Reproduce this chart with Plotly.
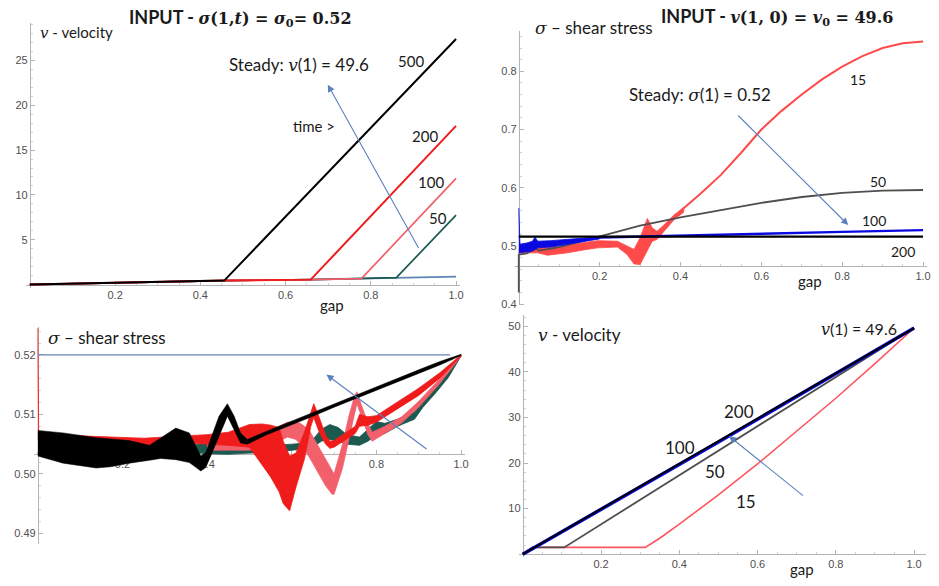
import plotly.graph_objects as go

W, H = 939, 586

# ---------------- data ----------------
SIGMA0 = 0.52
V0 = 49.6

# Panel A: velocity v(gap) for imposed stress, times 50/100/200/500
A_GAP_BASE = [0.0, 0.456, 0.659, 0.778, 0.86, 1.0]
A_V_BASE = [0.0, 0.44, 0.55, 0.66, 0.77, 0.88]
A_GAP_50 = [0.0, 0.456, 0.659, 0.778, 0.86, 1.0]
A_V_50 = [0.0, 0.44, 0.55, 0.66, 0.77, 7.75]
A_GAP_100 = [0.0, 0.456, 0.659, 0.778, 1.0]
A_V_100 = [0.0, 0.44, 0.55, 0.66, 11.85]
A_GAP_200 = [0.0, 0.456, 0.659, 1.0]
A_V_200 = [0.0, 0.44, 0.55, 17.7]
A_GAP_500 = [0.0, 0.2, 0.456, 1.0]
A_V_500 = [0.0, 0.2, 0.44, 27.4]

# Panel B: shear stress for imposed velocity, times 15/50/100/200
B_GAP_15_NOISY = [0.0, 0.02, 0.047, 0.071, 0.12, 0.16, 0.195, 0.244, 0.268, 0.285,
                  0.30, 0.318, 0.33, 0.342, 0.359, 0.384, 0.408]
B_S_15_UP = [0.495, 0.498, 0.502, 0.497, 0.502, 0.505, 0.509, 0.508, 0.4995, 0.494,
             0.514, 0.547, 0.531, 0.525, 0.536, 0.553, 0.566]
B_S_15_LO = [0.488, 0.488, 0.488, 0.484, 0.488, 0.493, 0.4966, 0.498, 0.485, 0.469,
             0.468, 0.491, 0.508, 0.511, 0.525, 0.545, 0.558]
B_GAP_15 = [0.40, 0.45, 0.5, 0.55, 0.6, 0.65, 0.7, 0.75, 0.8, 0.85, 0.9, 0.95, 1.0]
B_S_15 = [0.560, 0.590, 0.622, 0.660, 0.700, 0.732, 0.760, 0.786, 0.808, 0.826,
          0.840, 0.848, 0.851]
B_GAP_50 = [0.0, 0.0, 0.02, 0.04, 0.05, 0.1, 0.15, 0.2, 0.25, 0.3, 0.4, 0.5, 0.6,
            0.7, 0.8, 0.9, 1.0]
B_S_50 = [0.42, 0.485, 0.487, 0.496, 0.492, 0.498, 0.507, 0.516, 0.526, 0.535, 0.549,
          0.562, 0.574, 0.584, 0.591, 0.595, 0.596]
B_GAP_100_NOISY = [0.0, 0.003, 0.02, 0.034, 0.04, 0.047, 0.079, 0.12, 0.16, 0.2]
B_S_100_UP = [0.565, 0.503, 0.505, 0.508, 0.515, 0.508, 0.509, 0.511, 0.5125, 0.5155]
B_S_100_LO = [0.488, 0.488, 0.490, 0.491, 0.494, 0.4966, 0.498, 0.502, 0.507, 0.512]
B_GAP_100 = [0.2, 0.4, 0.6, 0.8, 1.0]
B_S_100 = [0.5145, 0.518, 0.521, 0.524, 0.527]
B_GAP_200 = [0.0, 1.0]
B_S_200 = [0.516, 0.516]

# Panel C: shear stress bands (upper / lower envelopes) for imposed stress
C_GAP_50 = [0.36, 0.40, 0.45, 0.50, 0.55, 0.60, 0.63, 0.65, 0.67, 0.69, 0.71, 0.73,
            0.76, 0.78, 0.80, 0.82, 0.85, 0.89, 0.91, 0.94, 0.97, 1.0]
C_S_50_UP = [0.5048, 0.5052, 0.5052, 0.5050, 0.5048, 0.5050, 0.5052, 0.5058, 0.5075,
             0.5083, 0.5078, 0.5066, 0.5062, 0.5075, 0.5088, 0.5085, 0.5092, 0.5104,
             0.5125, 0.5148, 0.5172, 0.5200]
C_S_50_LO = [0.5036, 0.5034, 0.5033, 0.5035, 0.5036, 0.5040, 0.5042, 0.5045, 0.5055,
             0.5058, 0.5055, 0.5050, 0.5048, 0.5055, 0.5065, 0.5068, 0.5080, 0.5092,
             0.5112, 0.5136, 0.5162, 0.5198]
C_GAP_100 = [0.40, 0.50, 0.55, 0.57, 0.59, 0.61, 0.62, 0.64, 0.66, 0.68, 0.695, 0.70,
             0.72, 0.735, 0.748, 0.754, 0.765, 0.78, 0.79, 0.82, 0.86, 0.90, 0.95, 1.0]
C_S_100_UP = [0.5055, 0.5056, 0.5065, 0.5080, 0.5087, 0.5087, 0.5085, 0.5075, 0.5050,
              0.5025, 0.5005, 0.5000, 0.5050, 0.5097, 0.5130, 0.5138, 0.5115, 0.5085,
              0.5070, 0.5080, 0.5096, 0.5122, 0.5160, 0.5200]
C_S_100_LO = [0.5040, 0.5040, 0.5045, 0.5055, 0.5062, 0.5058, 0.5050, 0.5030, 0.5005,
              0.4980, 0.4966, 0.4966, 0.5010, 0.5057, 0.5100, 0.5118, 0.5095, 0.5066,
              0.5055, 0.5068, 0.5086, 0.5112, 0.5152, 0.5198]
C_GAP_200 = [0.0, 0.002, 0.1, 0.2, 0.25, 0.30, 0.35, 0.40, 0.45, 0.50, 0.53, 0.55,
             0.57, 0.58, 0.595, 0.61, 0.63, 0.645, 0.652, 0.665, 0.68, 0.69, 0.70,
             0.75, 0.76, 0.78, 0.80, 0.85, 0.90, 0.95, 1.0]
C_S_200_UP = [0.5245, 0.5064, 0.5064, 0.5062, 0.5060, 0.5062, 0.5064, 0.5066, 0.5070,
              0.5083, 0.5084, 0.5082, 0.5078, 0.5055, 0.5030, 0.5035, 0.5070, 0.5105,
              0.5118, 0.5095, 0.5065, 0.5055, 0.5056, 0.5080, 0.5100, 0.5096, 0.5098,
              0.5121, 0.5144, 0.5170, 0.5200]
C_S_200_LO = [0.5060, 0.5060, 0.5058, 0.5056, 0.5046, 0.5048, 0.5052, 0.5050, 0.5048,
              0.5045, 0.5015, 0.4995, 0.4970, 0.4950, 0.4938, 0.4978, 0.5025, 0.5080,
              0.5095, 0.5070, 0.5050, 0.5043, 0.5045, 0.5068, 0.5080, 0.5082, 0.5087,
              0.5109, 0.5132, 0.5161, 0.5198]
C_GAP_500 = [0.0, 0.06, 0.138, 0.172, 0.216, 0.264, 0.29, 0.326, 0.358, 0.385, 0.397,
             0.428, 0.448, 0.464, 0.479, 0.495, 0.538, 0.60, 0.65, 0.70, 0.75, 0.80,
             0.85, 0.90, 0.95, 1.0]
C_S_500_UP = [0.5073, 0.5069, 0.5061, 0.5059, 0.5056, 0.5048, 0.5060, 0.5077, 0.5069,
              0.5030, 0.5036, 0.5097, 0.5118, 0.5097, 0.5069, 0.5058, 0.5071, 0.5089,
              0.5103, 0.5118, 0.5132, 0.5147, 0.5161, 0.5175, 0.5189, 0.5201]
C_S_500_LO = [0.5030, 0.5018, 0.5010, 0.5012, 0.5018, 0.5023, 0.5026, 0.5024, 0.5019,
              0.5005, 0.5011, 0.5063, 0.5097, 0.5074, 0.5052, 0.5050, 0.5065, 0.5083,
              0.5097, 0.5112, 0.5126, 0.5141, 0.5155, 0.5169, 0.5183, 0.5199]

# Panel D: velocity for imposed velocity, times 15/50/100/200
D_GAP_15 = [0.0, 0.025, 0.313, 0.35, 0.4, 0.45, 0.5, 0.6, 0.7, 0.8, 0.9, 1.0]
D_V_15 = [0.0, 1.5, 1.5, 3.5, 6.6, 9.7, 13.0, 19.8, 26.9, 34.2, 41.8, 49.6]
D_GAP_50 = [0.0, 0.025, 0.106, 1.0]
D_V_50 = [0.0, 1.5, 1.5, 49.6]
D_GAP_100 = [0.0, 0.5, 1.0]
D_V_100 = [0.0, 24.6, 49.6]
D_GAP_200 = [0.0, 1.0]
D_V_200 = [0.0, 49.6]

# ---------------- styling ----------------
AXC = "#b4b4b4"
TICKFONT = dict(family="Liberation Sans, Arial", size=11, color="#505050")
LBL = "Lato, Open Sans, sans-serif"
MATH = "DejaVu Serif"
ARROW = "#5b80bd"

BLACK = "#000000"
RED = "#f01c1c"
SALMON = "#f2606c"
TEAL = "#1c5a50"
STEEL = "#5d86b4"
GRAY = "#4f4f4f"
BLUE = "#0a0ae0"
REDB = "#ff4a4a"
REDD = "#ff5560"

# pixel mapping of each panel: px = ax + bx*x ; py = ay + by*y
PANELS = {
    1: dict(ax=30, bx=428, ay=287, by=-9.04, xr=[-0.01, 1.01], yr=[-0.4, 29.2],
            xpos_py=287, xt=[0.2, 0.4, 0.6, 0.8, 1.0], yt=[5, 10, 15, 20, 25],
            xf=".1f", yf="d", xm=0.05, ym=1),
    2: dict(ax=521, bx=406, ay=541.5, by=-587, xr=[-0.01, 1.01], yr=[0.398, 0.87],
            xpos_py=268, xt=[0.2, 0.4, 0.6, 0.8, 1.0], yt=[0.4, 0.5, 0.6, 0.7, 0.8],
            xf=".1f", yf=".1f", xm=0.05, ym=0.02),
    3: dict(ax=38, bx=425, ay=3478, by=-6000, xr=[-0.01, 1.01], yr=[0.4882, 0.5247],
            xpos_py=458, xt=[0.2, 0.4, 0.6, 0.8, 1.0], yt=[0.49, 0.50, 0.51, 0.52],
            xf=".1f", yf=".2f", xm=0.05, ym=0.002),
    4: dict(ax=525, bx=393, ay=559, by=-4.6, xr=[-0.01, 1.03], yr=[-0.5, 52.5],
            xpos_py=559, xt=[0.2, 0.4, 0.6, 0.8, 1.0], yt=[10, 20, 30, 40, 50],
            xf=".1f", yf="d", xm=0.05, ym=2),
}


def paper(px, py):
    return px / W, 1 - py / H


layout = dict(
    width=W, height=H, margin=dict(l=0, r=0, t=0, b=0),
    paper_bgcolor="white", plot_bgcolor="rgba(0,0,0,0)", showlegend=False,
)

for k, p in PANELS.items():
    xd = [(p["ax"] + p["bx"] * p["xr"][0]) / W, (p["ax"] + p["bx"] * p["xr"][1]) / W]
    yd = [1 - (p["ay"] + p["by"] * p["yr"][0]) / H, 1 - (p["ay"] + p["by"] * p["yr"][1]) / H]
    sfx = "" if k == 1 else str(k)
    layout["xaxis" + sfx] = dict(
        domain=xd, range=p["xr"], anchor="free", position=1 - p["xpos_py"] / H,
        showline=True, linecolor=AXC, linewidth=1, ticks="inside", ticklen=4,
        tickcolor=AXC, tickmode="array", tickvals=p["xt"], tickformat=p["xf"],
        tickfont=TICKFONT, showgrid=False, zeroline=False, layer="below traces",
        minor=dict(ticks="inside", ticklen=2, tickcolor="#d0d0d0", tick0=0,
                   dtick=p["xm"], showgrid=False),
    )
    layout["yaxis" + sfx] = dict(
        domain=yd, range=p["yr"], anchor="free", position=p["ax"] / W,
        showline=True, linecolor=AXC, linewidth=1, ticks="inside", ticklen=4,
        tickcolor=AXC, tickmode="array", tickvals=p["yt"], tickformat=p["yf"],
        tickfont=TICKFONT, showgrid=False, zeroline=False, layer="below traces",
        minor=dict(ticks="inside", ticklen=2, tickcolor="#d0d0d0", tick0=0,
                   dtick=p["ym"], showgrid=False),
    )

fig = go.Figure(layout=layout)


def ref(k):
    return ("x", "y") if k == 1 else ("x%d" % k, "y%d" % k)


def line(k, x, y, color, width):
    xa, ya = ref(k)
    fig.add_trace(go.Scatter(x=x, y=y, mode="lines", xaxis=xa, yaxis=ya,
                             line=dict(color=color, width=width), hoverinfo="skip"))


def band(k, x, up, lo, color, edge=0.8):
    xa, ya = ref(k)
    fig.add_trace(go.Scatter(x=list(x) + list(x)[::-1], y=list(up) + list(lo)[::-1],
                             mode="lines", fill="toself", fillcolor=color,
                             xaxis=xa, yaxis=ya, line=dict(color=color, width=edge),
                             hoverinfo="skip"))


# Panel A
line(1, A_GAP_BASE, A_V_BASE, STEEL, 1.6)
line(1, A_GAP_50, A_V_50, TEAL, 1.7)
line(1, A_GAP_100, A_V_100, SALMON, 1.7)
line(1, A_GAP_200, A_V_200, RED, 2.0)
line(1, A_GAP_500, A_V_500, BLACK, 2.0)

# Panel B
band(2, B_GAP_15_NOISY, B_S_15_UP, B_S_15_LO, REDB)
line(2, B_GAP_15, B_S_15, REDB, 2.0)
line(2, B_GAP_50, B_S_50, GRAY, 1.8)
band(2, B_GAP_100_NOISY, B_S_100_UP, B_S_100_LO, BLUE)
line(2, B_GAP_100, B_S_100, BLUE, 2.4)
line(2, B_GAP_200, B_S_200, BLACK, 2.2)

# Panel C
band(3, C_GAP_50, C_S_50_UP, C_S_50_LO, TEAL)
band(3, C_GAP_100, C_S_100_UP, C_S_100_LO, SALMON)
band(3, C_GAP_200, C_S_200_UP, C_S_200_LO, RED)
band(3, C_GAP_500, C_S_500_UP, C_S_500_LO, BLACK, edge=0.5)

# Panel D
line(4, D_GAP_15, D_V_15, REDD, 1.6)
line(4, D_GAP_50, D_V_50, GRAY, 1.8)
line(4, D_GAP_100, D_V_100, BLUE, 3.6)
line(4, D_GAP_200, D_V_200, BLACK, 2.0)

# steady-state stress level in panel C
fig.add_shape(type="line", xref="x3", yref="y3", x0=0, x1=0.974, y0=SIGMA0, y1=SIGMA0,
              line=dict(color="#5f84b8", width=1.2))


def text(px, py, s, size=15, family=LBL, color="#1a1a1a"):
    x, y = paper(px, py)
    fig.add_annotation(x=x, y=y, xref="paper", yref="paper", text=s, showarrow=False,
                       font=dict(family=family, size=size, color=color),
                       xanchor="center", yanchor="middle")


def arrow(k, tail, head):
    xa, ya = ref(k)
    fig.add_annotation(x=head[0], y=head[1], ax=tail[0], ay=tail[1], xref=xa, yref=ya,
                       axref=xa, ayref=ya, text="", showarrow=True, arrowhead=2,
                       arrowsize=1.3, arrowwidth=1.1, arrowcolor=ARROW)


def m(s):
    return '<span style="font-family:%s"><i>%s</i></span>' % (MATH, s)


TITLE_MATH = "font-family:%s;font-size:16px" % MATH

# titles
text(242, 18, '<b>INPUT - </b><span style="%s"><b><i>σ</i>(1,<i>t</i>) = '
     '<i>σ</i><sub>0</sub>= %.2f</b></span>' % (TITLE_MATH, SIGMA0), size=18)
text(780, 17, '<b>INPUT - </b><span style="%s"><b><i>v</i>(1, 0) = '
     '<i>v</i><sub>0</sub> = %.1f</b></span>' % (TITLE_MATH, V0), size=18)

# Panel A labels
text(77, 33, m("v") + " - velocity", size=15)
text(300, 65, "Steady: " + m("v") + "(1) = %.1f" % V0, size=17)
text(413, 62, "500", size=15)
text(427, 137, "200", size=15)
text(433, 184, "100", size=15)
text(440, 220, "50", size=15)
text(315, 127, "time >", size=15)
text(333, 308, "gap", size=15)
arrow(1, (0.914, 3.9), (0.699, 22.3))

# Panel B labels
text(597, 28, m("σ") + " – shear stress", size=17)
text(703, 95, "Steady: " + m("σ") + "(1) = %.2f" % SIGMA0, size=17)
text(862, 80, "15", size=14)
text(882, 183, "50", size=14)
text(878, 222, "100", size=14)
text(907, 254, "200", size=14)
text(813, 283, "gap", size=15)
arrow(2, (0.539, 0.7266), (0.815, 0.5358))

# Panel C labels
text(107, 340, m("σ") + " – shear stress", size=17)
arrow(3, (0.922, 0.504), (0.682, 0.5167))

# Panel D labels
text(582, 337, m("v") + " - velocity", size=17)
text(863, 332, m("v") + "(1) = %.1f" % V0, size=16)
text(742, 415, "200", size=17)
text(683, 451, "100", size=17)
text(718, 476, "50", size=17)
text(749, 506, "15", size=17)
text(805, 574, "gap", size=15)
arrow(4, (0.72, 12.6), (0.527, 25.9))

fig.write_html("out.html")
